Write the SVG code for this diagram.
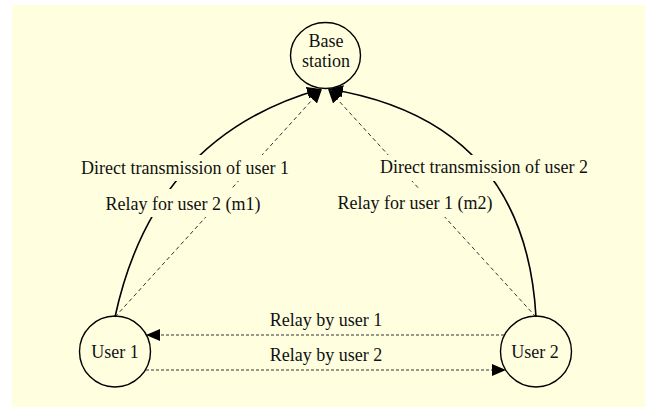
<svg xmlns="http://www.w3.org/2000/svg" width="645" height="407" viewBox="0 0 645 407">
  <style>
    .node { fill: none; stroke: #000; stroke-width: 1.4; }
    .label { font-family: "Liberation Serif", "Times New Roman", serif; font-size: 18px; fill: #111; text-anchor: middle; }
    .plate { fill: #FFFFE0; stroke: none; }
    .solid { fill: none; stroke: #000; stroke-width: 1.6; }
    .dash { fill: none; stroke: #333; stroke-width: 1; stroke-dasharray: 4 3; }
    .dash2 { fill: none; stroke: #333; stroke-width: 1; stroke-dasharray: 3 2; }
  </style>
  <defs>
    <marker id="head" viewBox="0 0 14 12" refX="14" refY="6" markerWidth="14" markerHeight="12" markerUnits="userSpaceOnUse" orient="auto">
      <path d="M0,0 L14,6 L0,12 Z" fill="#000"/>
    </marker>
  </defs>
  <rect x="12" y="5" width="633" height="402" fill="#FFFFE0"/>

  <g id="connectors">
    <path class="solid" d="M115,317 Q154,136 321,89" marker-end="url(#head)"/>
    <path class="solid" d="M536,317 Q525,121 329,89" marker-end="url(#head)"/>
    <path class="dash" d="M115,317 L322,89" marker-end="url(#head)"/>
    <path class="dash" d="M536,317 L328,89" marker-end="url(#head)"/>
    <path class="dash2" d="M504,335 L146,335" marker-end="url(#head)"/>
    <path class="dash2" d="M146,370 L506,370" marker-end="url(#head)"/>
  </g>

  <g id="base-station">
    <ellipse class="node" cx="325.5" cy="55.5" rx="35" ry="33"/>
    <text class="label" x="326" y="47">Base</text>
    <text class="label" x="326" y="67">station</text>
  </g>
  <g id="user-1">
    <circle class="node" cx="115" cy="351.5" r="35.5"/>
    <text class="label" x="115" y="358">User 1</text>
  </g>
  <g id="user-2">
    <circle class="node" cx="536" cy="351.5" r="35.5"/>
    <text class="label" x="535" y="358">User 2</text>
  </g>

  <!-- edge labels sit on plates that break the lines beneath them -->
  <g id="labels">
    <rect class="plate" x="79" y="155" width="213" height="26"/>
    <text class="label" x="185" y="174">Direct transmission of user 1</text>
    <rect class="plate" x="103" y="189" width="161" height="28"/>
    <text class="label" x="183" y="210">Relay for user 2 (m1)</text>
    <rect class="plate" x="377" y="155" width="214" height="26"/>
    <text class="label" x="484" y="173">Direct transmission of user 2</text>
    <rect class="plate" x="335" y="189" width="161" height="28"/>
    <text class="label" x="415" y="209">Relay for user 1 (m2)</text>
    <text class="label" x="326" y="326">Relay by user 1</text>
    <text class="label" x="326" y="361">Relay by user 2</text>
  </g>
</svg>
